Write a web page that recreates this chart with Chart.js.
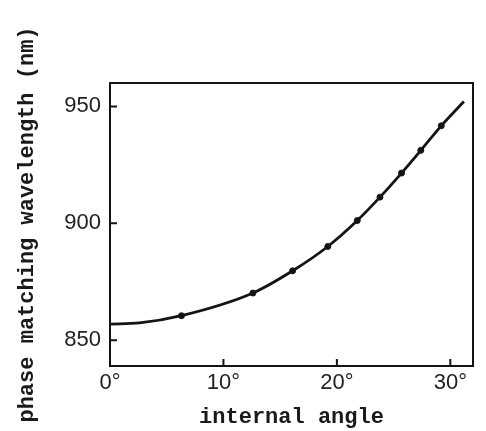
<!DOCTYPE html>
<html>
<head>
<meta charset="utf-8">
<script src="https://cdn.jsdelivr.net/npm/chart.js@4.4.1/dist/chart.umd.min.js"></script>
<style>
  html, body { margin: 0; padding: 0; background: #fff; }
  #wrap { width: 486px; height: 431px; }
</style>
</head>
<body>
<div id="wrap"><canvas id="chart"></canvas></div>
<script>
// curve (internal angle in degrees, wavelength in nm)
const curveAngles = [0, 2.6, 6.3, 12.6, 16.1, 19.2, 21.8, 23.8, 25.7, 27.4, 29.2, 31.2];
const curveWavelengths = [856.9, 857.4, 860.5, 870.2, 879.7, 890.1, 901.2, 911.2, 921.5, 931.2, 941.7, 952.1];

// measured dots sitting on the curve
const pointAngles = [6.3, 12.6, 16.1, 19.2, 21.8, 23.8, 25.7, 27.4, 29.2];
const pointWavelengths = [860.5, 870.2, 879.7, 890.1, 901.2, 911.2, 921.5, 931.2, 941.7];

// axis ticks
const xTicks = [0, 10, 20, 30];
const yTicks = [850, 900, 950];

const ink = '#141414';

// box around the plot and short inward tick marks
const frame = {
  id: 'frame',
  afterDraw(chart) {
    const { ctx, chartArea: a, scales: { x, y } } = chart;
    ctx.save();
    ctx.strokeStyle = ink;
    ctx.lineWidth = 2;
    ctx.strokeRect(a.left, a.top, a.right - a.left, a.bottom - a.top);
    ctx.beginPath();
    xTicks.forEach(v => {
      if (v === 0) return;
      const px = x.getPixelForValue(v);
      ctx.moveTo(px, a.bottom);
      ctx.lineTo(px, a.bottom - 7);
    });
    yTicks.forEach(v => {
      const py = y.getPixelForValue(v);
      ctx.moveTo(a.left, py);
      ctx.lineTo(a.left + 7, py);
    });
    ctx.stroke();
    ctx.restore();
  }
};

const curve = curveAngles.map((a, i) => ({ x: a, y: curveWavelengths[i] }));
const points = pointAngles.map((a, i) => ({ x: a, y: pointWavelengths[i] }));

const tickFont = { family: '"Liberation Sans", Arial, sans-serif', size: 22 };
const titleFont = { family: '"Liberation Mono", "DejaVu Sans Mono", monospace', size: 22, weight: 'bold' };

new Chart(document.getElementById('chart'), {
  type: 'scatter',
  data: {
    datasets: [{
      data: curve,
      showLine: true,
      pointRadius: 0,
      borderColor: ink,
      borderWidth: 2.8,
      cubicInterpolationMode: 'monotone'
    }, {
      data: points,
      pointRadius: 3,
      pointBackgroundColor: ink,
      pointBorderColor: ink
    }]
  },
  options: {
    responsive: true,
    maintainAspectRatio: false,
    animation: false,
    layout: { padding: { top: 83, right: 13, left: 0, bottom: 0 } },
    plugins: { legend: { display: false }, tooltip: { enabled: false } },
    scales: {
      x: {
        type: 'linear',
        min: 0,
        max: 32,
        afterBuildTicks: s => { s.ticks = xTicks.map(v => ({ value: v })); },
        afterFit: s => { s.height = 65; },
        grid: { display: false, drawTicks: false },
        border: { display: false },
        ticks: { color: '#222', font: tickFont, padding: 4, maxRotation: 0, callback: v => v + '°' },
        title: { display: true, text: 'internal angle', color: '#1a1a1a', font: titleFont, padding: { top: 0, bottom: 0 } }
      },
      y: {
        min: 839,
        max: 960,
        afterBuildTicks: s => { s.ticks = yTicks.map(v => ({ value: v })); },
        afterFit: s => { s.width = 110; },
        grid: { display: false, drawTicks: false },
        border: { display: false },
        ticks: { color: '#222', font: tickFont, padding: 9 },
        title: { display: true, text: 'phase matching wavelength (nm)', color: '#1a1a1a', font: titleFont, padding: { top: 14, bottom: 0 } }
      }
    }
  },
  plugins: [frame]
});
</script>
</body>
</html>
